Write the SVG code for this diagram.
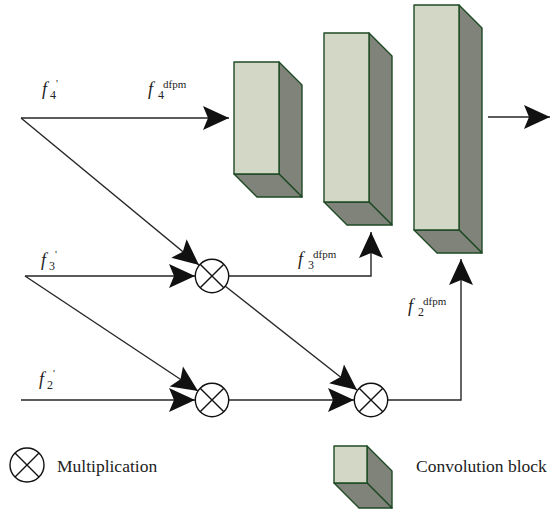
<svg xmlns="http://www.w3.org/2000/svg" width="554" height="509" viewBox="0 0 554 509">
  <style>
    .wire { fill: none; stroke: #262626; stroke-width: 1.4; }
    .front { fill: #d3d8c6; stroke: #1e4a24; stroke-width: 1.4; stroke-linejoin: round; }
    .shade { fill: #80837a; stroke: #1e4a24; stroke-width: 1.4; stroke-linejoin: round; }
    .mul circle { fill: #ffffff; stroke: #111111; stroke-width: 1.4; }
    .mul path { stroke: #111111; stroke-width: 1.4; }
    .fi { font-family: "Liberation Serif", serif; font-style: italic; font-size: 18px; fill: #222; }
    .sub { font-family: "Liberation Serif", serif; font-style: normal; font-size: 12px; }
    .sup { font-family: "Liberation Serif", serif; font-style: normal; font-size: 11px; }
    .legend { font-family: "Liberation Serif", serif; font-size: 17.5px; fill: #222; }
  </style>
  <defs>
    <marker id="head" viewBox="-27 -13 28 26" markerWidth="28" markerHeight="26" refX="0" refY="0" orient="auto" markerUnits="userSpaceOnUse">
      <path d="M0,0 L-26,-12 L-21,0 L-26,12 Z" fill="#111111"/>
    </marker>
  </defs>

  <!-- connectors -->
  <g id="connectors">
    <path class="wire" d="M21,118 H229" marker-end="url(#head)"/>
    <path class="wire" d="M21,118 L199,265" marker-end="url(#head)"/>
    <path class="wire" d="M25,276 H195" marker-end="url(#head)"/>
    <path class="wire" d="M25,276 L198,391" marker-end="url(#head)"/>
    <path class="wire" d="M21,400 H195" marker-end="url(#head)"/>
    <path class="wire" d="M229,276 H371 V232" marker-end="url(#head)"/>
    <path class="wire" d="M225,286 L357,390" marker-end="url(#head)"/>
    <path class="wire" d="M229,400 H354" marker-end="url(#head)"/>
    <path class="wire" d="M387,400 H461 V259" marker-end="url(#head)"/>
    <path class="wire" d="M488,117 H550" marker-end="url(#head)"/>
  </g>

  <!-- convolution blocks -->
  <g id="block1">
    <polygon class="shade" points="279,62 302,85 302,197 279,174"/>
    <polygon class="shade" points="234,174 279,174 302,197 257,197"/>
    <rect class="front" x="234" y="62" width="45" height="112"/>
  </g>
  <g id="block2">
    <polygon class="shade" points="369,33 392,56 392,225 369,202"/>
    <polygon class="shade" points="324,202 369,202 392,225 347,225"/>
    <rect class="front" x="324" y="33" width="45" height="169"/>
  </g>
  <g id="block3">
    <polygon class="shade" points="459,5 482,28 482,253 459,230"/>
    <polygon class="shade" points="414,230 459,230 482,253 437,253"/>
    <rect class="front" x="414" y="5" width="45" height="225"/>
  </g>

  <!-- multiplication nodes -->
  <g id="mul1" class="mul" transform="translate(212,276)">
    <circle r="16.7"/><path d="M-11.8,-11.8 L11.8,11.8 M11.8,-11.8 L-11.8,11.8"/>
  </g>
  <g id="mul2" class="mul" transform="translate(212,400)">
    <circle r="16.7"/><path d="M-11.8,-11.8 L11.8,11.8 M11.8,-11.8 L-11.8,11.8"/>
  </g>
  <g id="mul3" class="mul" transform="translate(371,400)">
    <circle r="16.7"/><path d="M-11.8,-11.8 L11.8,11.8 M11.8,-11.8 L-11.8,11.8"/>
  </g>

  <!-- feature labels -->
  <g id="labels">
    <text class="fi" x="42" y="95">f<tspan class="sub" x="50" y="99">4</tspan><tspan class="sup" x="56" y="87">'</tspan></text>
    <text class="fi" x="148" y="95">f<tspan class="sub" x="158" y="99">4</tspan><tspan class="sup" x="163" y="88">dfpm</tspan></text>
    <text class="fi" x="41" y="266">f<tspan class="sub" x="49" y="270">3</tspan><tspan class="sup" x="55" y="258">'</tspan></text>
    <text class="fi" x="298" y="265">f<tspan class="sub" x="308" y="269">3</tspan><tspan class="sup" x="313" y="258">dfpm</tspan></text>
    <text class="fi" x="39" y="385">f<tspan class="sub" x="47" y="389">2</tspan><tspan class="sup" x="53" y="377">'</tspan></text>
    <text class="fi" x="408" y="312">f<tspan class="sub" x="418" y="316">2</tspan><tspan class="sup" x="423" y="305">dfpm</tspan></text>
  </g>

  <!-- legend -->
  <g id="legend-mul">
    <g class="mul" transform="translate(27,465)">
      <circle r="17"/><path d="M-12,-12 L12,12 M12,-12 L-12,12"/>
    </g>
    <text class="legend" x="57" y="472">Multiplication</text>
  </g>
  <g id="legend-block">
    <polygon class="shade" points="367,446 392,471 392,508 367,483"/>
    <polygon class="shade" points="334,483 367,483 392,508 359,508"/>
    <rect class="front" x="334" y="446" width="33" height="37"/>
    <text class="legend" x="416" y="472">Convolution block</text>
  </g>
</svg>
